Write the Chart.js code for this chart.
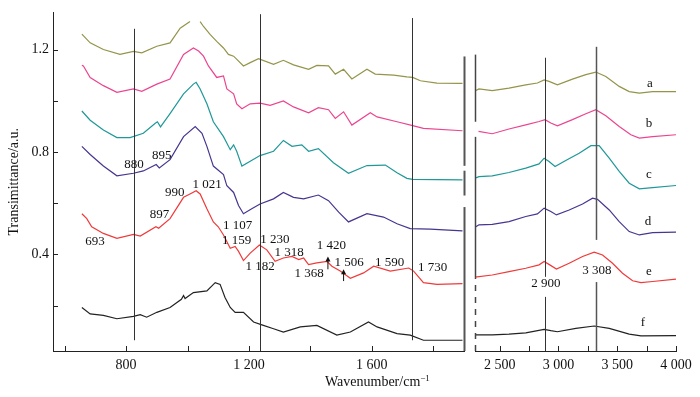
<!DOCTYPE html>
<html>
<head>
<meta charset="utf-8">
<script src="https://cdn.jsdelivr.net/npm/chart.js@4.4.0/dist/chart.umd.min.js"></script>
<style>
  body { margin: 0; background: #fff; }
  #wrap { position: relative; width: 700px; height: 397px; overflow: hidden; }
  #left { position: absolute; left: 0; top: 0; width: 470px; height: 397px; }
  #right { position: absolute; left: 470px; top: 0; width: 230px; height: 397px; }
  #xtitle { position: absolute; left: 325px; top: 374px; font: 14px "Liberation Serif"; color: #111; white-space: nowrap; }
  #xtitle sup { font-size: 9px; vertical-align: 5px; line-height: 0; }
</style>
</head>
<body>
<div id="wrap">
  <div id="left"><canvas id="cLeft"></canvas></div>
  <div id="right"><canvas id="cRight"></canvas></div>
  <div id="xtitle">Wavenumber/cm<sup>&minus;1</sup></div>
</div>
<script>
// ---------------------------------------------------------------
// spectra: [wavenumber, transmittance]
// null = gap in the trace
// ---------------------------------------------------------------
const curveA = [[656,1.260],[683,1.226],[726,1.200],[780,1.181],[824,1.193],[851,1.187],[900,1.213],[943,1.226],
  [976,1.283],[1008,1.309],[1024,null],[1041,1.309],[1052,1.290],[1074,1.258],[1095,1.232],[1117,1.206],[1133,1.181],
  [1150,1.174],[1182,1.136],[1204,1.149],[1231,1.164],[1280,1.142],[1312,1.158],[1345,1.140],[1394,1.123],[1421,1.138],
  [1459,1.136],[1481,1.104],[1508,1.123],[1535,1.085],[1584,1.123],[1611,1.104],[1671,1.100],[1714,1.093],[1733,1.091],
  [1758,1.078],[1812,1.069],[1895,1.068],
  [2290,1.022],[2324,1.030],[2437,1.024],[2579,1.033],[2722,1.046],[2821,1.053],[2878,1.065],[2920,1.059],[2991,1.046],
  [3119,1.068],[3233,1.085],[3318,1.095],[3403,1.078],[3517,1.040],[3602,1.020],[3688,1.014],[3801,1.020],[4000,1.020]];

const curveB = [[656,1.138],[661,1.136],[683,1.091],[726,1.059],[770,1.033],[824,1.046],[851,1.037],[900,1.065],
  [943,1.085],[987,1.181],[1019,1.206],[1036,1.194],[1052,1.174],[1068,1.136],[1095,1.091],[1117,1.097],[1128,1.046],
  [1150,1.027],[1160,0.988],[1177,0.969],[1204,0.988],[1236,0.991],[1269,0.982],[1312,0.999],[1345,0.976],[1394,0.953],
  [1426,0.973],[1459,0.965],[1481,0.931],[1508,0.957],[1535,0.905],[1595,0.953],[1617,0.937],[1682,0.918],[1733,0.903],
  [1768,0.892],[1895,0.883],
  [2320,0.867],[2437,0.858],[2579,0.876],[2722,0.892],[2835,0.905],[2886,0.912],[2935,0.899],[2991,0.888],[3119,0.912],
  [3233,0.935],[3318,0.950],[3403,0.927],[3517,0.886],[3616,0.854],[3688,0.841],[3801,0.847],[4000,0.854]];

const curveC = [[656,0.960],[683,0.924],[726,0.886],[770,0.856],[813,0.856],[856,0.873],[895,0.912],[902,0.918],[912,0.898],
  [943,0.950],[987,1.027],[1019,1.065],[1028,1.072],[1041,1.046],[1063,0.988],[1084,0.918],[1117,0.860],[1139,0.809],
  [1150,0.828],[1160,0.803],[1177,0.745],[1204,0.764],[1236,0.786],[1280,0.803],[1312,0.845],[1340,0.822],[1372,0.828],
  [1394,0.803],[1426,0.813],[1475,0.758],[1524,0.717],[1584,0.747],[1644,0.749],[1682,0.719],[1714,0.697],[1733,0.693],
  [1895,0.691],
  [2290,0.687],[2324,0.693],[2437,0.696],[2579,0.709],[2722,0.726],[2835,0.742],[2878,0.764],[2920,0.751],[2971,0.732],
  [3062,0.755],[3176,0.783],[3276,0.812],[3346,0.812],[3432,0.764],[3517,0.713],[3602,0.668],[3688,0.646],[3801,0.651],
  [4000,0.659]];

const curveD = [[656,0.822],[683,0.790],[726,0.745],[770,0.707],[824,0.717],[856,0.726],[898,0.751],[908,0.738],
  [943,0.770],[987,0.860],[1025,0.899],[1047,0.873],[1063,0.822],[1084,0.745],[1117,0.712],[1128,0.668],[1150,0.642],
  [1166,0.591],[1182,0.559],[1209,0.578],[1236,0.597],[1280,0.617],[1312,0.642],[1345,0.623],[1378,0.617],[1426,0.632],
  [1459,0.610],[1492,0.565],[1524,0.527],[1584,0.559],[1638,0.546],[1682,0.520],[1725,0.501],[1790,0.499],[1895,0.492],
  [2290,0.499],[2324,0.508],[2437,0.510],[2579,0.520],[2722,0.540],[2821,0.550],[2878,0.572],[2935,0.559],[2983,0.546],
  [3091,0.565],[3205,0.588],[3290,0.610],[3332,0.606],[3432,0.565],[3517,0.520],[3602,0.482],[3688,0.469],[3801,0.478],
  [4000,0.480]];

const curveE = [[656,0.559],[672,0.540],[688,0.508],[726,0.482],[770,0.463],[824,0.478],[846,0.472],[897,0.508],[906,0.502],
  [943,0.540],[987,0.623],[1008,0.636],[1028,0.649],[1041,0.636],[1063,0.578],[1084,0.527],[1100,0.508],[1117,0.476],
  [1139,0.424],[1155,0.431],[1166,0.412],[1182,0.376],[1204,0.405],[1234,0.437],[1258,0.418],[1285,0.373],[1312,0.386],
  [1340,0.392],[1362,0.380],[1378,0.386],[1394,0.360],[1421,0.367],[1454,0.373],[1470,0.354],[1497,0.335],[1530,0.307],
  [1573,0.328],[1606,0.354],[1660,0.335],[1720,0.347],[1736,0.335],[1768,0.290],[1812,0.283],[1895,0.286],
  [2290,0.307],[2437,0.315],[2579,0.328],[2722,0.341],[2835,0.354],[2878,0.367],[2926,0.354],[2983,0.338],[3091,0.360],
  [3205,0.386],[3304,0.403],[3375,0.392],[3460,0.360],[3545,0.322],[3631,0.293],[3702,0.286],[3801,0.290],[4000,0.299]];

const curveF = [[656,0.193],[683,0.168],[726,0.162],[770,0.149],[824,0.158],[846,0.165],[867,0.155],[900,0.174],
  [943,0.193],[980,0.225],[987,0.240],[992,0.228],[1019,0.251],[1063,0.258],[1090,0.290],[1106,0.283],[1122,0.232],
  [1139,0.193],[1155,0.174],[1182,0.174],[1215,0.136],[1242,0.125],[1280,0.110],[1312,0.097],[1367,0.117],[1421,0.123],
  [1486,0.085],[1530,0.097],[1589,0.136],[1617,0.117],[1682,0.091],[1725,0.085],[1768,0.065],[1895,0.065],
  [2290,0.085],[2437,0.085],[2579,0.088],[2722,0.093],[2878,0.106],[2935,0.101],[2991,0.097],[3148,0.110],[3304,0.119],
  [3432,0.110],[3602,0.088],[3702,0.081],[4000,0.082]];

const curveNames = ['a', 'b', 'c', 'd', 'e', 'f'];
const curveColors = ['#94944a', '#ec4590', '#1f9898', '#483590', '#f03a3a', '#222222'];

const leftTicks = [600, 800, 1000, 1200, 1400, 1600, 1800];
const leftLabels = [800, 1200, 1600];
const rightTicks = [2500, 2750, 3000, 3250, 3500, 3750, 4000];
const rightLabels = [2500, 3000, 3500, 4000];
const yTicks = [0.2, 0.4, 0.6, 0.8, 1.0, 1.2];
const yLabels = [0.4, 0.8, 1.2];

// peak labels: text, wavenumber, transmittance
const leftNotes = [
  ['880', 826, 0.750], ['895', 916, 0.785], ['990', 958, 0.642], ['1 021', 1064, 0.673], ['897', 909, 0.554],
  ['693', 699, 0.450], ['1 107', 1163, 0.513], ['1 159', 1160, 0.456], ['1 182', 1236, 0.354], ['1 230', 1284, 0.458],
  ['1 318', 1331, 0.406], ['1 368', 1396, 0.327], ['1 420', 1468, 0.435], ['1 506', 1526, 0.367], ['1 590', 1658, 0.369],
  ['1 730', 1798, 0.350]
];
const rightNotes = [
  ['2 900', 2892, 0.281], ['3 308', 3327, 0.333],
  ['a', 3778, 1.050], ['b', 3770, 0.896], ['c', 3770, 0.700], ['d', 3761, 0.519], ['e', 3770, 0.327], ['f', 3719, 0.131]
];

const Y_MIN = 0.023, Y_MAX = 1.345;
const FONT = '"Liberation Serif", "DejaVu Serif", serif';

function fmt(v) {
  if (v < 1000) return String(v);
  return Math.floor(v / 1000) + ' ' + String(v % 1000).padStart(3, '0');
}

function pick(curve, lo, hi) {
  return curve.filter(p => p[0] >= lo && p[0] <= hi).map(p => ({x: p[0], y: p[1]}));
}

function makeSets(lo, hi) {
  return [curveA, curveB, curveC, curveD, curveE, curveF].map((c, i) => ({
    label: curveNames[i],
    data: pick(c, lo, hi),
    borderColor: curveColors[i],
    borderWidth: 1.2,
    pointRadius: 0,
    spanGaps: false,
    fill: false
  }));
}

// lines, labels, arrows and inward ticks drawn over the plot
function decor(cfg) {
  return {
    id: 'decor',
    afterDatasetsDraw(chart) {
      const ctx = chart.ctx, xs = chart.scales.x, ys = chart.scales.y;
      const area = chart.chartArea;
      ctx.save();
      cfg.lines.forEach(l => {
        const px = Math.round(xs.getPixelForValue(l.x)) + 0.5;
        ctx.strokeStyle = l.color || '#333';
        ctx.lineWidth = l.width || 1;
        ctx.setLineDash(l.dash || []);
        l.segs.forEach(s => {
          ctx.beginPath();
          ctx.moveTo(px, ys.getPixelForValue(s[0]));
          ctx.lineTo(px, ys.getPixelForValue(s[1]));
          ctx.stroke();
        });
      });
      ctx.setLineDash([]);
      (cfg.dashed || []).forEach(l => {
        const px = Math.round(xs.getPixelForValue(l.x)) + 0.5;
        ctx.strokeStyle = l.color || '#333';
        ctx.lineWidth = l.width || 1;
        ctx.setLineDash([6, 6]);
        ctx.beginPath();
        ctx.moveTo(px, ys.getPixelForValue(l.segs[0]));
        ctx.lineTo(px, ys.getPixelForValue(l.segs[1]));
        ctx.stroke();
      });
      ctx.setLineDash([]);
      (cfg.arrows || []).forEach(a => {
        const px = xs.getPixelForValue(a.x);
        const y0 = ys.getPixelForValue(a.from), y1 = ys.getPixelForValue(a.to);
        ctx.strokeStyle = '#111';
        ctx.fillStyle = '#111';
        ctx.lineWidth = 1;
        ctx.beginPath();
        ctx.moveTo(px, y0);
        ctx.lineTo(px, y1 + 4);
        ctx.stroke();
        ctx.beginPath();
        ctx.moveTo(px, y1);
        ctx.lineTo(px - 2.5, y1 + 5);
        ctx.lineTo(px + 2.5, y1 + 5);
        ctx.closePath();
        ctx.fill();
      });
      ctx.fillStyle = '#111';
      ctx.font = '13px ' + FONT;
      ctx.textAlign = 'center';
      ctx.textBaseline = 'middle';
      cfg.notes.forEach(n => {
        ctx.fillText(n[0], xs.getPixelForValue(n[1]), ys.getPixelForValue(n[2]));
      });
      // inward tick marks
      ctx.strokeStyle = '#222';
      ctx.lineWidth = 1;
      xs.ticks.forEach(t => {
        const px = Math.round(xs.getPixelForValue(t.value)) + 0.5;
        ctx.beginPath();
        ctx.moveTo(px, area.bottom);
        ctx.lineTo(px, area.bottom - 5);
        ctx.stroke();
      });
      if (cfg.yTicks) {
        ys.ticks.forEach(t => {
          const py = Math.round(ys.getPixelForValue(t.value)) + 0.5;
          ctx.beginPath();
          ctx.moveTo(area.left, py);
          ctx.lineTo(area.left + 5, py);
          ctx.stroke();
        });
      }
      ctx.restore();
    }
  };
}

function xAxis(min, max, ticks, labels) {
  return {
    type: 'linear', min: min, max: max,
    grid: {display: false, drawTicks: false},
    border: {display: true, color: '#222', width: 1},
    afterBuildTicks: s => { s.ticks = ticks.map(v => ({value: v})); },
    afterFit: s => { s.height = 46; },
    ticks: {
      autoSkip: false, maxRotation: 0, padding: 6, color: '#111',
      font: {family: FONT, size: 14},
      callback: v => labels.includes(v) ? fmt(v) : ''
    }
  };
}

Chart.defaults.font.family = FONT;

window.onload = function() {

  new Chart(document.getElementById('cLeft'), {
    type: 'line',
    data: {datasets: makeSets(500, 1900)},
    options: {
      responsive: true, maintainAspectRatio: false, animation: false,
      layout: {padding: {top: 7, right: 6, left: 0, bottom: 0}},
      plugins: {legend: {display: false}, tooltip: {enabled: false}},
      scales: {
        x: xAxis(562, 1900, leftTicks, leftLabels),
        y: {
          min: Y_MIN, max: Y_MAX,
          grid: {display: false, drawTicks: false},
          border: {display: true, color: '#222', width: 1},
          afterBuildTicks: s => { s.ticks = yTicks.map(v => ({value: v})); },
          afterFit: s => { s.width = 53; },
          ticks: {
            padding: 4, color: '#111', font: {family: FONT, size: 14},
            callback: v => yLabels.some(l => Math.abs(l - v) < 1e-6) ? v.toFixed(1) : ''
          },
          title: {display: true, text: 'Transimittance/a.u.', color: '#111',
                  font: {family: FONT, size: 14}, padding: {top: 6, bottom: 0}}
        }
      }
    },
    plugins: [decor({
      yTicks: true,
      notes: leftNotes,
      lines: [
        {x: 826, segs: [[0.065, 1.281]]},
        {x: 1236, segs: [[Y_MIN, 1.338]]},
        {x: 1730, segs: [[0.065, 1.323]]},
        {x: 1900, width: 2, color: '#555', segs: [[Y_MIN, 0.585], [0.63, 0.727], [0.746, 1.173]]}
      ],
      arrows: [{x: 1457, from: 0.342, to: 0.392}, {x: 1508, from: 0.296, to: 0.342}]
    })]
  });

  new Chart(document.getElementById('cRight'), {
    type: 'line',
    data: {datasets: makeSets(2290, 4000)},
    options: {
      responsive: true, maintainAspectRatio: false, animation: false,
      layout: {padding: {top: 7, right: 24, left: 5, bottom: 0}},
      plugins: {legend: {display: false}, tooltip: {enabled: false}},
      scales: {
        x: xAxis(2290, 4000, rightTicks, rightLabels),
        y: {display: false, min: Y_MIN, max: Y_MAX}
      }
    },
    plugins: [decor({
      yTicks: false,
      notes: rightNotes,
      lines: [
        {x: 2883, segs: [[Y_MIN, 0.231], [0.308, 1.15]]},
        {x: 3316, width: 1.5, color: '#555', segs: [[Y_MIN, 0.288], [0.45, 1.192]]},
        {x: 2290, width: 1.5, color: '#444', segs: [[0.304, 0.846], [0.904, 1.162]]}
      ],
      dashed: [{x: 2290, width: 1.5, color: '#444', segs: [Y_MIN, 0.304]}]
    })]
  });
};
</script>
</body>
</html>
